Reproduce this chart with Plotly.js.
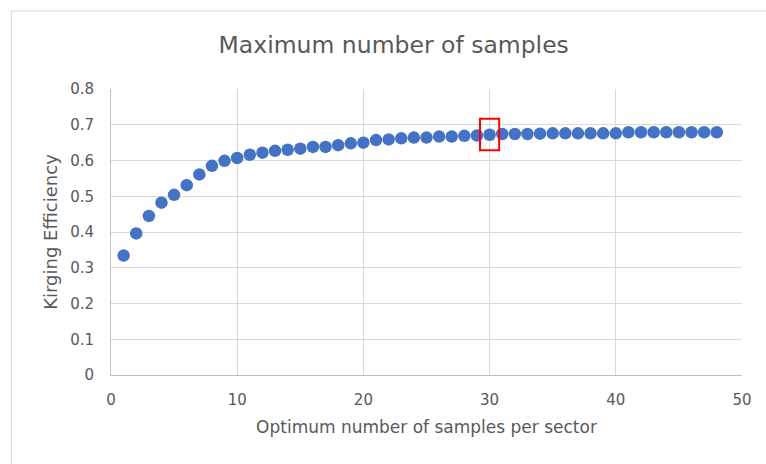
<!DOCTYPE html>
<html>
<head>
<meta charset="utf-8">
<script src="https://cdn.plot.ly/plotly-3.0.1.min.js"></script>
<style>html,body{margin:0;padding:0;background:#fff;}#chart{width:766px;height:464px;}</style>
</head>
<body>
<div id="chart"></div>
<script>
const samples = [1,2,3,4,5,6,7,8,9,10,11,12,13,14,15,16,17,18,19,20,21,22,23,24,25,26,27,28,29,30,31,32,33,34,35,36,37,38,39,40,41,42,43,44,45,46,47,48];
const efficiency = [0.334,0.396,0.445,0.482,0.504,0.531,0.561,0.585,0.599,0.607,0.616,0.622,0.627,0.630,0.633,0.638,0.638,0.643,0.648,0.650,0.657,0.659,0.662,0.664,0.664,0.667,0.667,0.669,0.670,0.672,0.674,0.674,0.674,0.675,0.676,0.676,0.676,0.676,0.676,0.676,0.679,0.679,0.679,0.679,0.679,0.679,0.679,0.679];
const highlightSample = 30;
const xTicks = [0,10,20,30,40,50];
const yTicks = [0,0.1,0.2,0.3,0.4,0.5,0.6,0.7,0.8];
const yTickLabels = ['0','0.1','0.2','0.3','0.4','0.5','0.6','0.7','0.8'];

const hi = samples.indexOf(highlightSample);
const hx = samples[hi], hy = efficiency[hi];

const FONT = "'DejaVu Sans', sans-serif";
const GREY = '#595959';
const trace = {
  x: samples, y: efficiency, type: 'scatter', mode: 'markers',
  marker: {color: '#4472C4', size: 12.5},
  hoverinfo: 'x+y'
};
const layout = {
  width: 766, height: 464,
  margin: {l: 111, r: 24, t: 89, b: 89},
  paper_bgcolor: '#fff', plot_bgcolor: '#fff',
  font: {family: FONT, color: GREY, size: 15},
  showlegend: false,
  title: {text: 'Maximum number of samples', font: {family: FONT, size: 23.5, color: GREY},
          xref: 'container', x: 0.514, xanchor: 'center', yref: 'container', y: 0.903, yanchor: 'middle'},
  xaxis: {range: [0, 50], tickvals: xTicks, ticktext: xTicks.map(String),
          showgrid: true, gridcolor: '#d9d9d9', gridwidth: 1,
          showline: true, linecolor: '#bfbfbf', linewidth: 1,
          zeroline: false, ticks: '', ticklen: 0, ticklabelstandoff: 11,
          tickfont: {family: FONT, size: 15, color: GREY},
          title: {text: 'Optimum number of samples per sector', font: {family: FONT, size: 17, color: GREY}, standoff: 13}},
  yaxis: {range: [0, 0.8], tickvals: yTicks, ticktext: yTickLabels,
          showgrid: true, gridcolor: '#d9d9d9', gridwidth: 1,
          showline: true, linecolor: '#bfbfbf', linewidth: 1,
          zeroline: false, ticks: '', ticklen: 0, ticklabelstandoff: 13,
          tickfont: {family: FONT, size: 15, color: GREY},
          title: {text: 'Kirging Efficiency', font: {family: FONT, size: 18, color: GREY}, standoff: 7}},
  shapes: [
    {type: 'rect', xref: 'paper', yref: 'paper', x0: -0.158, x1: 1.1, y0: -0.4, y1: 1.273,
     line: {color: '#d9d9d9', width: 1}, fillcolor: 'rgba(0,0,0,0)', layer: 'below'},
    {type: 'rect', xref: 'x', yref: 'y', x0: hx - 0.76, x1: hx + 0.76, y0: hy - 0.043, y1: hy + 0.045,
     line: {color: '#FF0000', width: 2}, fillcolor: 'rgba(0,0,0,0)'}
  ]
};
Plotly.newPlot('chart', [trace], layout, {displayModeBar: false, staticPlot: true});
</script>
</body>
</html>
